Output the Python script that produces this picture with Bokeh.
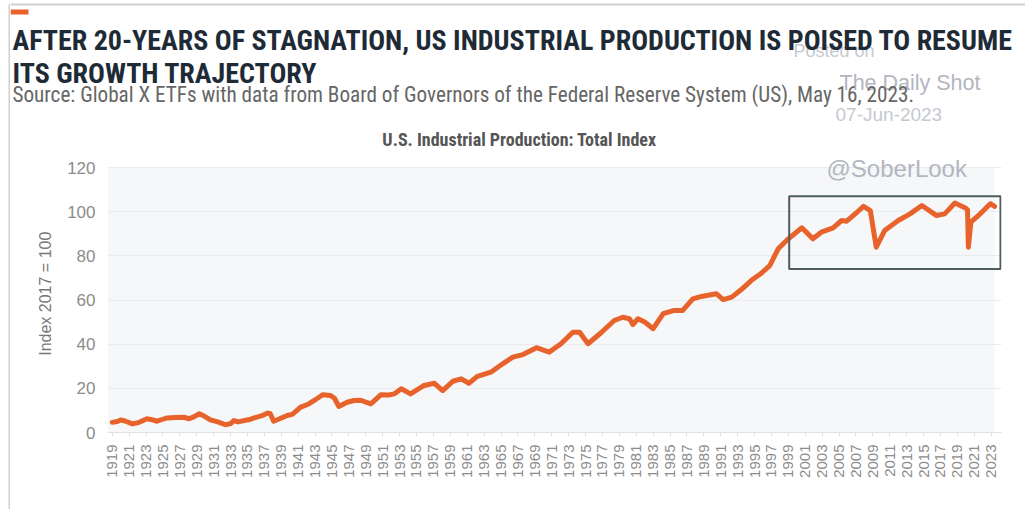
import math
from bokeh.plotting import figure
from bokeh.layouts import column, row
from bokeh.models import Label, BoxAnnotation, FixedTicker, Range1d, ColumnDataSource
from bokeh.embed import file_html
from bokeh.resources import INLINE

# ---- data ----
years = [1919.0, 1919.6, 1920.0, 1920.5, 1921.4, 1922.2, 1923.1, 1923.7, 1924.3, 1925.0,
         1925.5, 1926.5, 1927.5, 1928.1, 1928.7, 1929.3, 1929.8, 1930.6, 1931.5, 1932.4,
         1933.0, 1933.4, 1933.9, 1934.6, 1935.3, 1935.8, 1936.7, 1937.4, 1937.7, 1938.1,
         1938.8, 1939.7, 1940.3, 1941.3, 1942.2, 1942.9, 1943.9, 1944.8, 1945.3, 1945.8,
         1946.8, 1947.6, 1948.4, 1949.6, 1950.8, 1951.7, 1952.4, 1953.2, 1954.3, 1955.9,
         1957.1, 1958.1, 1959.3, 1960.3, 1961.2, 1962.2, 1963.8, 1965.2, 1966.4, 1967.6,
         1969.2, 1970.7, 1972.1, 1973.5, 1974.3, 1975.3, 1976.9, 1978.4, 1979.4, 1980.2,
         1980.6, 1981.2, 1982.0, 1983.0, 1984.2, 1985.5, 1986.5, 1987.7, 1988.7, 1990.5,
         1991.3, 1992.3, 1993.4, 1994.6, 1995.8, 1996.8, 1997.8, 1999.0, 2000.6, 2001.9,
         2002.9, 2004.3, 2005.3, 2005.9, 2006.9, 2007.9, 2008.7, 2009.4, 2010.4, 2012.0,
         2013.4, 2014.8, 2016.5, 2017.5, 2018.7, 2019.9, 2020.2, 2020.3, 2020.6, 2021.5,
         2022.3, 2022.9, 2023.4]
index_values = [4.6, 5.0, 5.7, 5.2, 3.9, 4.6, 6.2, 5.8, 5.1, 6.0,
                6.6, 6.8, 6.9, 6.2, 7.2, 8.5, 7.6, 5.7, 4.8, 3.5,
                4.0, 5.4, 4.8, 5.4, 5.9, 6.6, 7.6, 8.8, 8.5, 5.1,
                6.2, 7.7, 8.2, 11.5, 12.8, 14.5, 17.1, 16.8, 15.5, 11.8,
                13.7, 14.5, 14.6, 13.0, 17.1, 17.0, 17.5, 19.8, 17.5, 21.3,
                22.3, 19.0, 23.2, 24.3, 22.3, 25.4, 27.3, 31.1, 34.1, 35.3,
                38.4, 36.4, 40.2, 45.4, 45.4, 40.2, 45.4, 50.7, 52.2, 51.5,
                48.9, 51.5, 50.0, 47.0, 53.8, 55.3, 55.3, 60.5, 61.6, 62.8,
                60.2, 61.3, 64.6, 68.8, 72.1, 75.6, 83.2, 87.7, 92.7, 87.7,
                90.7, 92.7, 96.0, 95.7, 99.0, 102.4, 100.5, 83.9, 91.5, 96.0,
                99.0, 102.8, 98.3, 99.0, 103.9, 101.8, 100.8, 83.9, 95.3, 98.3,
                101.3, 103.6, 102.4]
tick_years = list(range(1919, 2024, 2))
y_ticks = [0, 20, 40, 60, 80, 100, 120]
y_max = 120
box_left = [1999.1]
box_right = [2024.1]
box_bottom = [74]
box_top = [107]

title_line1 = "AFTER 20-YEARS OF STAGNATION, US INDUSTRIAL PRODUCTION IS POISED TO RESUME"
title_line2 = "ITS GROWTH TRAJECTORY"
source_text = "Source: Global X ETFs with data from Board of Governors of the Federal Reserve System (US), May 16, 2023."
chart_title = "U.S. Industrial Production: Total Index"
y_label = "Index  2017 = 100"

NARROW = "'Liberation Sans Narrow', 'Roboto Condensed', 'DejaVu Sans Condensed', 'Liberation Sans', sans-serif"
SANS = "'Liberation Sans', Arial, sans-serif"
ORANGE = "#e8622c"
EDGE = "#d0d0d0"
WM_LIGHT = "#c6c9d1"
WM_DARK = "#b2b6c0"

W, H = 1025, 509
HEAD_H = 150            # header band height
STRIP_W = 10            # full-height left strip carrying the page edge line
FL, FT, FR, FB = 107, 167, 1001, 432   # chart area edges on the page (FT = the 120 line)
BASE_FIX = 8            # labels render ~8px below the requested alphabetic baseline

# ================= left strip (full height) =================
st = figure(width=STRIP_W, height=H, output_backend="svg", toolbar_location=None,
            x_range=Range1d(0, STRIP_W), y_range=Range1d(H, 0),
            x_axis_location=None, y_axis_location=None, min_border=0)
st.grid.grid_line_color = None
st.outline_line_color = None
st.background_fill_color = "white"
st.border_fill_color = "white"
st.segment(x0=[9, 9], y0=[4, 4], x1=[9, STRIP_W], y1=[H, 4], line_color=EDGE, line_width=2)

# ================= header (page coordinates) =================
hd = figure(width=W - STRIP_W, height=HEAD_H, output_backend="svg", toolbar_location=None,
            x_range=Range1d(STRIP_W, W), y_range=Range1d(HEAD_H, 0),
            x_axis_location=None, y_axis_location=None, min_border=0)
hd.grid.grid_line_color = None
hd.outline_line_color = None
hd.background_fill_color = "white"
hd.border_fill_color = "white"

hd.segment(x0=[STRIP_W], y0=[4], x1=[W], y1=[4], line_color=EDGE, line_width=2)
hd.quad(left=[10], right=[28], top=[9], bottom=[14], fill_color=ORANGE, line_color=None)

def hlab(text, x, y, size, color, font=NARROW, style="normal", align="left"):
    hd.add_layout(Label(x=x, y=y - BASE_FIX, text=text, text_font=font, text_font_size=size,
                        text_color=color, text_font_style=style, text_align=align,
                        text_baseline="alphabetic"))

# watermarks (behind the title)
hlab("Posted on", 793, 58, "18px", WM_LIGHT, font=SANS)
hlab("The Daily Shot", 839, 90, "21.5px", WM_DARK, font=SANS)
hlab("07-Jun-2023", 835, 122, "19px", WM_LIGHT, font=SANS)

hlab(title_line1, 12, 47.5, "28px", "#1e2b37", style="bold")
hlab(title_line2, 12, 81, "28px", "#1e2b37", style="bold")
hlab(source_text, 12, 101.5, "21.2px", "#666666")
hlab(chart_title, 519, 147, "18px", "#555555", style="bold", align="center")

# ================= chart =================
CW, CH = W - STRIP_W, H - HEAD_H
px_per_unit = (FB - FT) / y_max
y_top = y_max + (FT - HEAD_H) / px_per_unit   # frame reaches up to the header band

p = figure(width=CW, height=CH, output_backend="svg", toolbar_location=None,
           x_range=Range1d(1918.44, 2024.22), y_range=Range1d(0, y_top),
           min_border_left=FL - STRIP_W, min_border_right=W - FR,
           min_border_top=0, min_border_bottom=H - FB)
p.background_fill_color = "white"
p.border_fill_color = "white"
p.outline_line_color = None

p.add_layout(BoxAnnotation(right=2023.4, top=y_max, fill_color="#f6f7f9", fill_alpha=1.0,
                           line_color=None, level="image"))

p.xaxis.ticker = FixedTicker(ticks=tick_years)
p.xaxis.major_label_orientation = math.pi / 2
p.xaxis.major_label_text_font = SANS
p.xaxis.major_label_text_font_size = "15px"
p.xaxis.major_label_text_color = "#8c8c8c"
p.xaxis.major_label_standoff = 8
p.xaxis.axis_line_color = "#e2e2e2"
p.xaxis.major_tick_line_color = "#e2e2e2"
p.xaxis.major_tick_in = 0
p.xaxis.major_tick_out = 4
p.xaxis.minor_tick_line_color = None

p.yaxis.ticker = FixedTicker(ticks=y_ticks)
p.yaxis.major_label_text_font = SANS
p.yaxis.major_label_text_font_size = "17px"
p.yaxis.major_label_text_color = "#8c8c8c"
p.yaxis.major_label_standoff = 6
p.yaxis.axis_line_color = None
p.yaxis.major_tick_line_color = None
p.yaxis.minor_tick_line_color = None
p.yaxis.axis_label = y_label
p.yaxis.axis_label_text_font = SANS
p.yaxis.axis_label_text_font_size = "16px"
p.yaxis.axis_label_text_font_style = "normal"
p.yaxis.axis_label_text_color = "#777777"
p.yaxis.axis_label_standoff = 10

p.xgrid.grid_line_color = None
p.ygrid.grid_line_color = "#e9ebee"
p.ygrid.grid_line_width = 1

src = ColumnDataSource(dict(x=years, y=index_values))
p.line("x", "y", source=src, line_color=ORANGE, line_width=5, line_join="round", line_cap="round")

p.quad(left=box_left, right=box_right, bottom=box_bottom, top=box_top,
       fill_color=None, line_color="#4d5c5c", line_width=2)

# watermark inside the chart (screen units relative to the frame: x from left, y up from bottom)
p.add_layout(Label(x=826 - FL, y=FB - (176 - BASE_FIX), x_units="screen", y_units="screen",
                   text="@SoberLook", text_font=SANS, text_font_size="24px", text_color=WM_DARK,
                   text_baseline="alphabetic"))

# wrapping the chart in its own row keeps its frame from being aligned with the header's
layout = row(st, column(hd, row(p, spacing=0), spacing=0), spacing=0)
open("out.html", "w").write(file_html(layout, INLINE))
